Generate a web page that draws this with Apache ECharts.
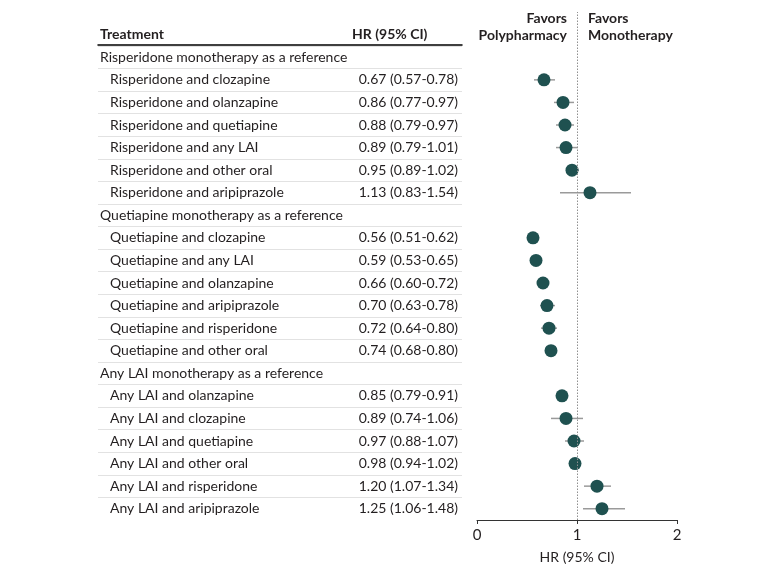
<!DOCTYPE html>
<html>
<head>
<meta charset="utf-8">
<script src="https://cdn.jsdelivr.net/npm/echarts@6/dist/echarts.min.js"></script>
<style>html,body{margin:0;padding:0;background:#fff}#c{width:780px;height:573px}</style>
</head>
<body>
<div id="c"></div>
<script>
const categories = [
  'Risperidone monotherapy as a reference',
  'Risperidone and clozapine', 'Risperidone and olanzapine', 'Risperidone and quetiapine',
  'Risperidone and any LAI', 'Risperidone and other oral', 'Risperidone and aripiprazole',
  'Quetiapine monotherapy as a reference',
  'Quetiapine and clozapine', 'Quetiapine and any LAI', 'Quetiapine and olanzapine',
  'Quetiapine and aripiprazole', 'Quetiapine and risperidone', 'Quetiapine and other oral',
  'Any LAI monotherapy as a reference',
  'Any LAI and olanzapine', 'Any LAI and clozapine', 'Any LAI and quetiapine',
  'Any LAI and other oral', 'Any LAI and risperidone', 'Any LAI and aripiprazole'
];
const hr     = [null, 0.67, 0.86, 0.88, 0.89, 0.95, 1.13, null, 0.56, 0.59, 0.66, 0.70, 0.72, 0.74, null, 0.85, 0.89, 0.97, 0.98, 1.20, 1.25];
const ciLow  = [null, 0.57, 0.77, 0.79, 0.79, 0.89, 0.83, null, 0.51, 0.53, 0.60, 0.63, 0.64, 0.68, null, 0.79, 0.74, 0.88, 0.94, 1.07, 1.06];
const ciHigh = [null, 0.78, 0.97, 0.97, 1.01, 1.02, 1.54, null, 0.62, 0.65, 0.72, 0.78, 0.80, 0.80, null, 0.91, 1.06, 1.07, 1.02, 1.34, 1.48];
const xTicks = [0, 1, 2];
const refValue = 1;

const FONT = 'Lato';
const TXT = '#231f20';
const f2 = v => v.toFixed(2);

const scatterData = [], barData = [];
hr.forEach((v, i) => {
  if (v != null) {
    scatterData.push([v, i]);
    barData.push([ciLow[i], ciHigh[i], i]);
  }
});

const chart = echarts.init(document.getElementById('c'), null, {renderer: 'canvas'});
const gridTop = 46, gridBottom = 53;

chart.setOption({
  animation: false,
  textStyle: {fontFamily: FONT, color: TXT},
  grid: [
    {left: 477, right: 103, top: gridTop, bottom: gridBottom},
    {left: 98, width: 364, top: gridTop, bottom: gridBottom},
    {left: 477, right: 103, top: 12, bottom: gridBottom}
  ],
  xAxis: [
    {
      gridIndex: 0, type: 'value', min: xTicks[0], max: xTicks[xTicks.length - 1], interval: 1,
      axisLine: {show: true, lineStyle: {color: '#333', width: 1}},
      axisTick: {show: true, length: 4, lineStyle: {color: '#333', width: 1}},
      axisLabel: {fontSize: 15, color: TXT, fontFamily: FONT, margin: 8},
      splitLine: {show: false},
      name: 'HR (95% CI)', nameLocation: 'middle', nameGap: 30,
      nameTextStyle: {fontSize: 14, color: TXT, fontFamily: FONT}
    },
    {
      gridIndex: 1, type: 'value', min: 0, max: 1, position: 'top', offset: 1,
      axisLine: {show: true, lineStyle: {color: '#000', width: 1.5}},
      axisTick: {show: false}, axisLabel: {show: false}, splitLine: {show: false}
    },
    {
      gridIndex: 1, type: 'value', min: 0, max: 1, position: 'bottom',
      axisLine: {show: true, lineStyle: {color: '#fff', width: 3}},
      axisTick: {show: false}, axisLabel: {show: false}, splitLine: {show: false}
    },
    {gridIndex: 2, type: 'value', min: xTicks[0], max: xTicks[xTicks.length - 1], show: false}
  ],
  yAxis: [
    {gridIndex: 0, type: 'category', data: categories, inverse: true, show: false},
    {
      gridIndex: 1, type: 'category', data: categories, inverse: true,
      axisLine: {show: false}, axisTick: {show: false},
      splitLine: {show: true, lineStyle: {color: '#e2e2e2', width: 1}},
      axisLabel: {
        inside: true, margin: 2, interval: 0, fontSize: 14, color: TXT, fontFamily: FONT,
        formatter: (value, idx) => {
          if (hr[idx] == null) return '{head|' + value + '}';
          return '{ind|\u00a0}{name|' + value + '}{hr|' + f2(hr[idx]) + ' (' + f2(ciLow[idx]) + '-' + f2(ciHigh[idx]) + ')}';
        },
        rich: {
          head: {fontSize: 14, fontFamily: FONT, color: TXT},
          ind: {width: 10, fontSize: 14, fontFamily: FONT},
          name: {width: 240, fontSize: 14, fontFamily: FONT, color: TXT, align: 'left'},
          hr: {width: 108, fontSize: 14, fontFamily: FONT, color: TXT, align: 'right'}
        }
      }
    },
    {gridIndex: 2, type: 'value', min: 0, max: 1, show: false}
  ],
  series: [
    {
      type: 'scatter', xAxisIndex: 3, yAxisIndex: 2, data: [], z: 1, silent: true,
      markLine: {
        silent: true, symbol: 'none', label: {show: false},
        lineStyle: {type: [1.5, 1.5], color: '#8f8f8f', width: 1},
        data: [{xAxis: refValue}]
      }
    },
    {
      type: 'custom', xAxisIndex: 0, yAxisIndex: 0, z: 2, silent: true,
      data: barData,
      encode: {x: [0, 1], y: 2},
      renderItem: (params, api) => {
        const a = api.coord([api.value(0), api.value(2)]);
        const b = api.coord([api.value(1), api.value(2)]);
        return {type: 'line', shape: {x1: a[0], y1: a[1], x2: b[0], y2: b[1]},
          style: {stroke: '#9a9a9a', lineWidth: 1.5}};
      }
    },
    {
      type: 'scatter', xAxisIndex: 0, yAxisIndex: 0, z: 3,
      data: scatterData, symbol: 'circle', symbolSize: 13,
      itemStyle: {color: '#1f5150', opacity: 1}
    }
  ]
});

const xRef = chart.convertToPixel({xAxisIndex: 0}, refValue);
chart.setOption({
  graphic: [
    {type: 'text', left: 100, top: 27, style: {text: 'Treatment', font: 'bold 14px ' + FONT, fill: TXT}},
    {type: 'text', left: 352, top: 27, style: {text: 'HR (95% CI)', font: 'bold 14px ' + FONT, fill: TXT}},
    {type: 'text', x: xRef - 10, y: 10, style: {text: 'Favors\nPolypharmacy', font: 'bold 14px ' + FONT, fill: TXT, align: 'right', verticalAlign: 'top', lineHeight: 17}},
    {type: 'text', x: xRef + 11, y: 10, style: {text: 'Favors\nMonotherapy', font: 'bold 14px ' + FONT, fill: TXT, align: 'left', verticalAlign: 'top', lineHeight: 17}}
  ]
});
</script>
</body>
</html>
